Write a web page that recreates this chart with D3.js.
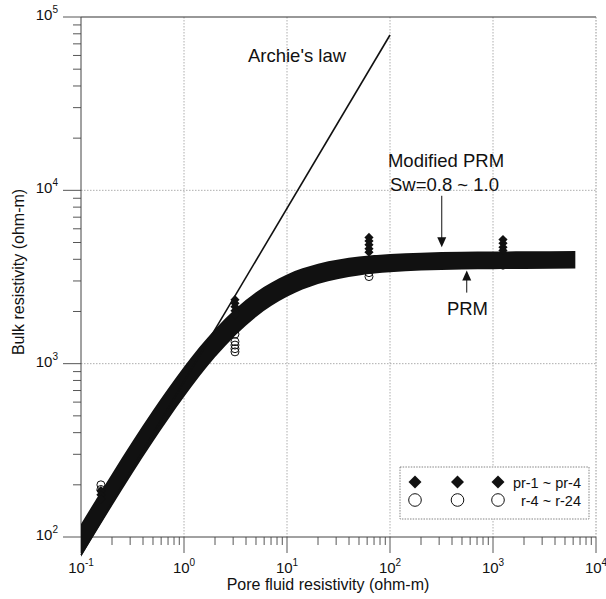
<!DOCTYPE html>
<html>
<head>
<meta charset="utf-8">
<script src="https://cdn.jsdelivr.net/npm/d3@7"></script>
<style>
  html, body { margin: 0; padding: 0; background: #fff; }
  svg { display: block; font-family: "Liberation Sans", Arial, sans-serif; }
</style>
</head>
<body>
<div id="chart"></div>
<script>
// Pore fluid resistivity grid for the PRM band (ohm-m)
const bandRw = [0.1, 0.2, 0.5, 1, 2, 5, 10, 20, 50, 100, 200, 500, 1000, 2000, 6300];
// upper edge (Sw = 0.8) and lower edge (Sw = 1.0) of the band
const bandHi = [119, 232, 538, 960, 1580, 2580, 3270, 3765, 4150, 4295, 4370, 4420, 4435, 4445, 4470];
const bandLo = [77, 151, 354, 643, 1088, 1858, 2430, 2877, 3231, 3369, 3443, 3495, 3508, 3515, 3540];

// Archie's law line end points
const archieRw = [0.1, 100];
const archieRo = [78.7, 78700];

// measured samples
const sampleRw = [0.156, 3.125, 62.5, 1250];
const diamondVals = [
  [185, 175, 165],
  [2340, 2230, 2130, 2020, 1920],
  [5350, 5100, 4850, 4600, 4400],
  [5200, 4950, 4700, 4500]
];
const circleVals = [
  [200, 188],
  [1600, 1480, 1340, 1280, 1220, 1170],
  [3350, 3180],
  [3900, 3700]
];

const xTickExp = [-1, 0, 1, 2, 3, 4];
const yTickExp = [2, 3, 4, 5];
const legendLabels = ["pr-1 ~ pr-4", "r-4 ~ r-24"];

const width = 606, height = 599;
const svg = d3.select("#chart").append("svg")
  .attr("width", width)
  .attr("height", height);

const x = d3.scaleLog().domain([0.1, 1e4]).range([81, 596]);
const y = d3.scaleLog().domain([100, 1e5]).range([537, 17]);
const [x0, x1] = x.range();
const [y0, y1] = y.range();

// gridlines
const grid = svg.append("g").attr("stroke", "#999").attr("stroke-width", 0.8)
  .attr("stroke-dasharray", "1.5,1.5");
grid.selectAll("line.vx")
  .data(xTickExp.slice(1, -1))
  .join("line")
  .attr("x1", d => x(Math.pow(10, d))).attr("x2", d => x(Math.pow(10, d)))
  .attr("y1", y1).attr("y2", y0);
grid.selectAll("line.hy")
  .data(yTickExp.slice(1, -1))
  .join("line")
  .attr("y1", d => y(Math.pow(10, d))).attr("y2", d => y(Math.pow(10, d)))
  .attr("x1", x0).attr("x2", x1);

// ticks (outward)
const isMajor = v => Math.abs(Math.log10(v) - Math.round(Math.log10(v))) < 1e-9;
const ticksG = svg.append("g").attr("stroke", "#444").attr("stroke-width", 0.9);
ticksG.selectAll("line.xt")
  .data(x.ticks())
  .join("line")
  .attr("x1", d => x(d)).attr("x2", d => x(d))
  .attr("y1", y0).attr("y2", d => y0 + (isMajor(d) ? 16 : 8));
ticksG.selectAll("line.yt")
  .data(y.ticks())
  .join("line")
  .attr("y1", d => y(d)).attr("y2", d => y(d))
  .attr("x1", x0).attr("x2", d => x0 - (isMajor(d) ? 18 : 8));

// frame
svg.append("line").attr("x1", x0).attr("x2", x1).attr("y1", y1).attr("y2", y1)
  .attr("stroke", "#333").attr("stroke-width", 1.2);
svg.append("line").attr("x1", x0).attr("x2", x1).attr("y1", y0).attr("y2", y0)
  .attr("stroke", "#444").attr("stroke-width", 1);
svg.append("line").attr("x1", x0).attr("x2", x0).attr("y1", y1).attr("y2", y0)
  .attr("stroke", "#444").attr("stroke-width", 1);
svg.append("line").attr("x1", x1).attr("x2", x1).attr("y1", y1).attr("y2", y0)
  .attr("stroke", "#888").attr("stroke-width", 0.9).attr("stroke-dasharray", "1.5,1.5");

// PRM band
const band = bandRw.map((rw, i) => ({rw, hi: bandHi[i], lo: bandLo[i]}));
svg.append("path")
  .datum(band)
  .attr("fill", "#111")
  .attr("d", d3.area()
    .x(d => x(d.rw))
    .y0(d => y(d.lo))
    .y1(d => y(d.hi))
    .curve(d3.curveMonotoneX));

// Archie's law
svg.append("line")
  .attr("x1", x(archieRw[0])).attr("y1", y(archieRo[0]))
  .attr("x2", x(archieRw[1])).attr("y2", y(archieRo[1]))
  .attr("stroke", "#111").attr("stroke-width", 1.6);

// samples
const diamond = d3.symbol().type(d3.symbolSquare).size(42);
const pts = svg.append("g");
sampleRw.forEach((rw, i) => {
  pts.selectAll(null)
    .data(circleVals[i])
    .join("circle")
    .attr("cx", x(rw)).attr("cy", d => y(d))
    .attr("r", 4)
    .attr("fill", "none").attr("stroke", "#111").attr("stroke-width", 1);
  pts.selectAll(null)
    .data(diamondVals[i])
    .join("path")
    .attr("d", diamond)
    .attr("transform", d => `translate(${x(rw)},${y(d)}) rotate(45)`)
    .attr("fill", "#111");
});

// tick labels with superscripts
const xLab = svg.append("g").attr("font-size", 15).attr("fill", "#111");
xTickExp.forEach(e => {
  const t = xLab.append("text")
    .attr("x", x(Math.pow(10, e)))
    .attr("y", y0 + 36)
    .attr("text-anchor", "middle");
  t.append("tspan").text("10");
  t.append("tspan").attr("dy", -7).attr("font-size", 10).text(e);
});
const yLab = svg.append("g").attr("font-size", 15).attr("fill", "#111");
yTickExp.forEach(e => {
  const t = yLab.append("text")
    .attr("x", 58)
    .attr("y", y(Math.pow(10, e)) + 3)
    .attr("text-anchor", "end");
  t.append("tspan").text("10");
  t.append("tspan").attr("dy", -7).attr("font-size", 10).text(e);
});

// axis titles
svg.append("text")
  .attr("x", 328)
  .attr("y", 590)
  .attr("text-anchor", "middle")
  .attr("font-size", 16)
  .attr("fill", "#111")
  .text("Pore fluid resistivity (ohm-m)");
svg.append("text")
  .attr("transform", `translate(24,${(y0 + y1) / 2 - 5}) rotate(-90)`)
  .attr("text-anchor", "middle")
  .attr("font-size", 16)
  .attr("fill", "#111")
  .text("Bulk resistivity (ohm-m)");

// annotations
const ann = svg.append("g").attr("font-size", 18.5).attr("fill", "#111");
ann.append("text").attr("x", x(4.18)).attr("y", y(55000)).text("Archie's law");
ann.append("text").attr("x", x(95.5)).attr("y", y(13600)).text("Modified PRM");
ann.append("text").attr("x", x(100)).attr("y", y(9860)).text("Sw=0.8 ~ 1.0");
ann.append("text").attr("x", x(357)).attr("y", y(1920)).text("PRM");

function arrow(rw, rFrom, rTip) {
  const ax = x(rw), ya = y(rFrom), yt = y(rTip);
  const dir = yt > ya ? 1 : -1;
  svg.append("line")
    .attr("x1", ax).attr("x2", ax)
    .attr("y1", ya).attr("y2", yt - dir * 8)
    .attr("stroke", "#111").attr("stroke-width", 1);
  svg.append("path")
    .attr("d", `M${ax},${yt} L${ax - 4.5},${yt - dir * 10} L${ax + 4.5},${yt - dir * 10} Z`)
    .attr("fill", "#111");
}
arrow(318, 9300, 4690);
arrow(556, 2570, 3450);

// legend
const lg = svg.append("g");
lg.append("rect")
  .attr("x", 400).attr("y", 467).attr("width", 189).attr("height", 52)
  .attr("fill", "#fff").attr("stroke", "#777").attr("stroke-width", 0.9)
  .attr("stroke-dasharray", "1.5,1.2");
const legX = [415, 457.5, 498];
const bigDiamond = d3.symbol().type(d3.symbolSquare).size(84);
lg.selectAll("path.ld")
  .data(legX)
  .join("path")
  .attr("d", bigDiamond)
  .attr("transform", d => `translate(${d},482) rotate(45)`)
  .attr("fill", "#111");
lg.selectAll("circle.lc")
  .data(legX)
  .join("circle")
  .attr("cx", d => d).attr("cy", 500).attr("r", 6.3)
  .attr("fill", "none").attr("stroke", "#111").attr("stroke-width", 1);
lg.selectAll("text")
  .data(legendLabels)
  .join("text")
  .attr("x", 581)
  .attr("y", (d, i) => 487.5 + i * 18)
  .attr("text-anchor", "end")
  .attr("font-size", 14.5)
  .attr("fill", "#111")
  .text(d => d);
</script>
</body>
</html>
